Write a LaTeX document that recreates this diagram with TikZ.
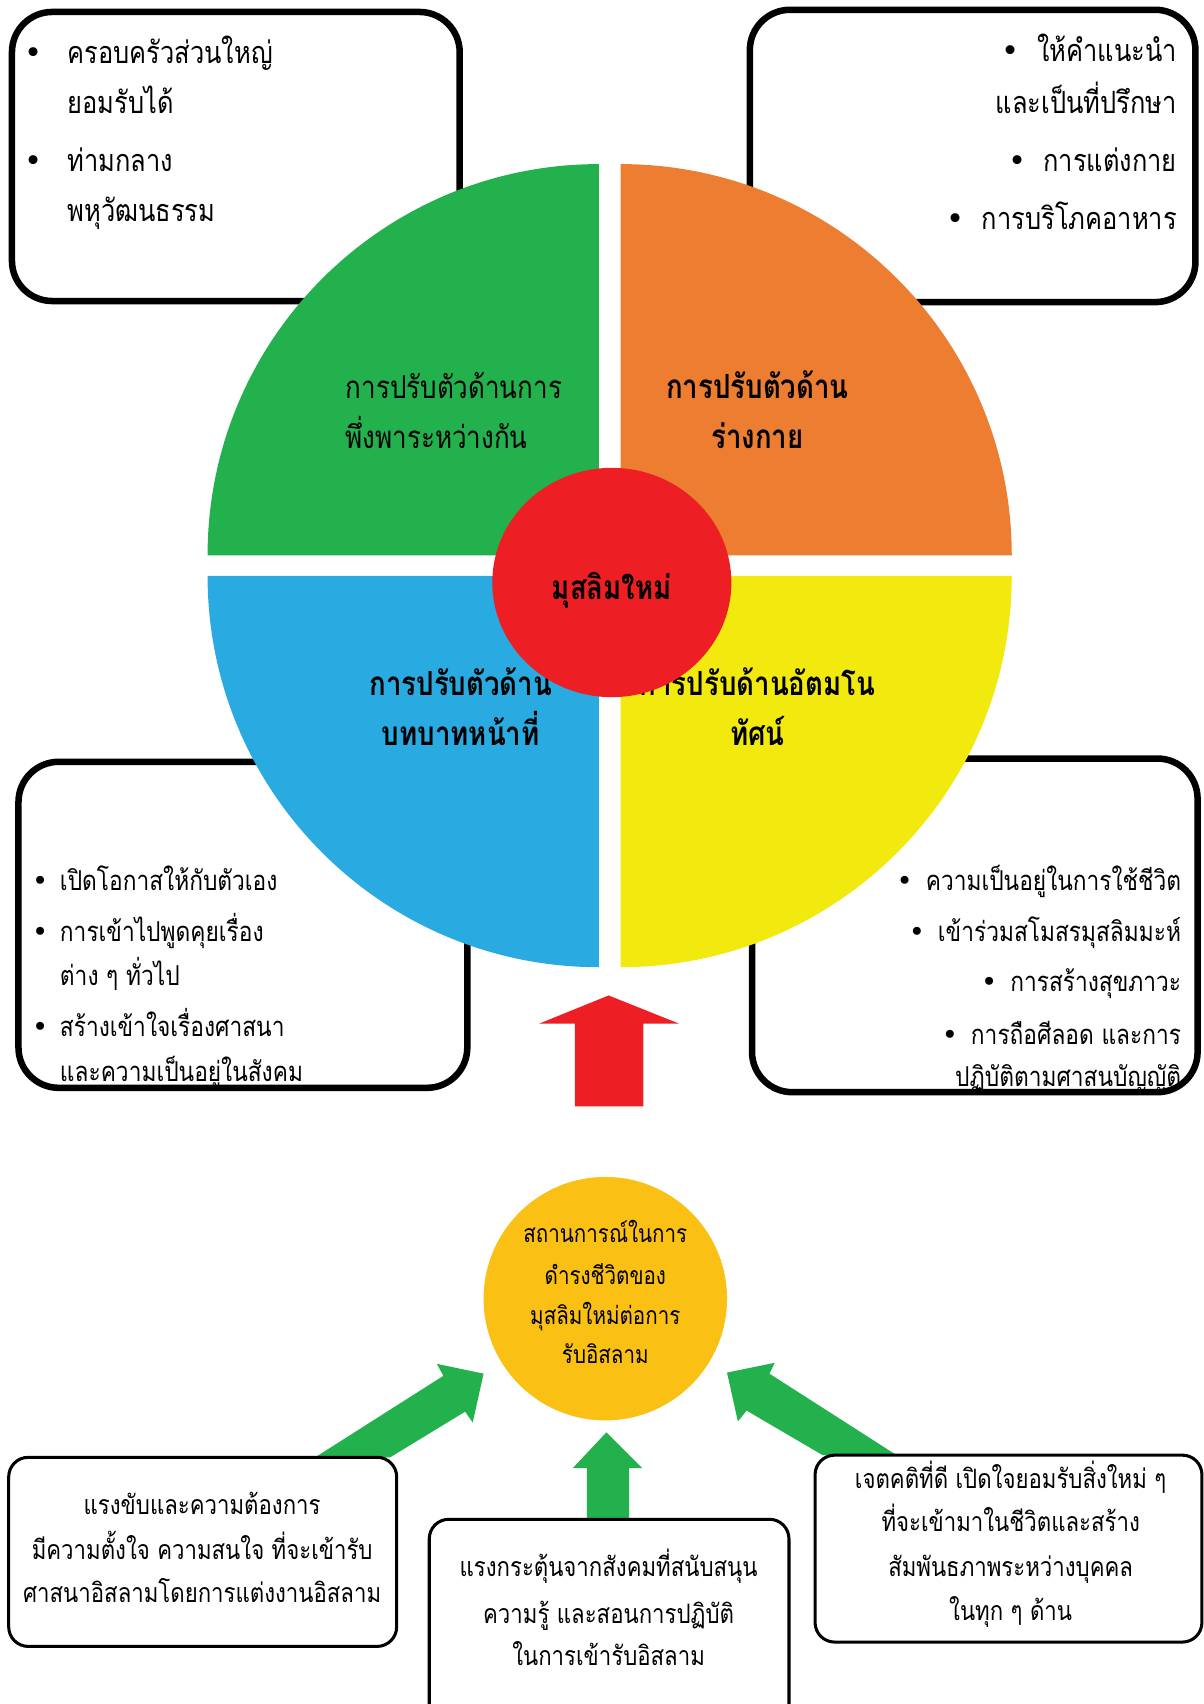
\documentclass[tikz,border=0pt]{standalone}
\usepackage{fontspec}
\setmainfont[Script=Thai,FakeStretch=0.83]{Loma}
\newfontfamily\bulfont{DejaVu Sans}
\usetikzlibrary{shapes.geometric}
\definecolor{qgreen}{RGB}{35,177,77}
\definecolor{qorange}{RGB}{237,125,49}
\definecolor{qblue}{RGB}{41,171,226}
\definecolor{qyellow}{RGB}{242,234,14}
\definecolor{qred}{RGB}{237,31,36}
\definecolor{qgold}{RGB}{251,192,20}
\newcommand\mybul{{\bulfont •}}
\begin{document}
\begin{tikzpicture}[x=1pt,y=-1pt,
  bigbox/.style={draw=black, line width=6pt, rounded corners=37pt, fill=white, inner sep=0pt},
  smallbox/.style={draw=black, line width=2.8pt, rounded corners=18pt, fill=white, inner sep=0pt},
  fa/.style={font=\fontsize{28.2pt}{34pt}\selectfont, inner sep=0pt},
  fb/.style={font=\fontsize{25.2pt}{30pt}\selectfont, inner sep=0pt},
  fd/.style={font=\fontsize{24.6pt}{30pt}\selectfont, inner sep=0pt},
  fq/.style={font=\fontsize{28.8pt}{35pt}\selectfont, inner sep=0pt},
  fqb/.style={font=\fontsize{30.6pt}{37pt}\selectfont\bfseries, inner sep=0pt},
  fc/.style={font=\fontsize{22.8pt}{27pt}\selectfont, inner sep=0pt},
  lw/.style={anchor=base west},
  le/.style={anchor=base east},
  lc/.style={anchor=base}
]
\useasboundingbox (0,0) rectangle (1107,1568);
\fill[white] (0,0) rectangle (1107,1568);

% ---------- upper boxes ----------
\node[bigbox, minimum width=412pt, minimum height=266pt] (tl) at (217,144) {};
\node[bigbox, minimum width=410pt, minimum height=269pt] (tr) at (895,143.5) {};
\node[bigbox, minimum width=413pt, minimum height=300pt] (bl) at (223.5,851) {};
\node[bigbox, minimum width=410pt, minimum height=307pt] (br) at (897,851.5) {};

% top-left texts
\node[fa,lc] (tlb1) at (31,58) {\mybul};
\node[fa,lw] (tl1) at (62,58) {ครอบครัวส่วนใหญ่};
\node[fa,lw] (tl2) at (62,104) {ยอมรับได้};
\node[fa,lc] (tlb3) at (31,158) {\mybul};
\node[fa,lw] (tl3) at (62,158) {ท่ามกลาง};
\node[fa,lw] (tl4) at (62,204) {พหุวัฒนธรรม};

% top-right texts
\node[fa,le] (tr1) at (1083,57) {\mybul\hspace{16pt}ให้คำแนะนำ};
\node[fa,le] (tr2) at (1083,104) {และเป็นที่ปรึกษา};
\node[fa,le] (tr3) at (1083,158) {\mybul\hspace{16pt}การแต่งกาย};
\node[fa,le] (tr4) at (1083,211) {\mybul\hspace{16pt}การบริโภคอาหาร};

% bottom-left texts
\node[fb,lc] (blb1) at (37,819) {\mybul};
\node[fb,lw] (bl1) at (55,819) {เปิดโอกาสให้กับตัวเอง};
\node[fb,lc] (blb2) at (37,866) {\mybul};
\node[fb,lw] (bl2) at (55,866) {การเข้าไปพูดคุยเรื่อง};
\node[fb,lw] (bl3) at (55,907) {ต่าง ๆ ทั่วไป};
\node[fb,lc] (blb4) at (37,954) {\mybul};
\node[fb,lw] (bl4) at (55,954) {สร้างเข้าใจเรื่องศาสนา};
\node[fb,lw] (bl5) at (55,995) {และความเป็นอยู่ในสังคม};

% bottom-right texts
\node[fb,le] (br1) at (1087,819) {\mybul\hspace{12pt}ความเป็นอยู่ในการใช้ชีวิต};
\node[fb,le] (br2) at (1087,866) {\mybul\hspace{12pt}เข้าร่วมสโมสรมุสลิมมะห์};
\node[fb,le] (br3) at (1087,912) {\mybul\hspace{12pt}การสร้างสุขภาวะ};
\node[fb,le] (br4) at (1087,961) {\mybul\hspace{12pt}การถือศีลอด และการ};
\node[fb,le] (br5) at (1087,1000) {ปฏิบัติตามศาสนบัญญัติ};

% ---------- quadrants ----------
\fill[qgreen]  (551,511) -- ++(-360,0) arc[start angle=180,end angle=90,radius=360pt] -- cycle;
\fill[qorange] (571,511) -- ++(0,-360) arc[start angle=90,end angle=0,radius=360pt] -- cycle;
\fill[qblue]   (551,530) -- ++(-360,0) arc[start angle=180,end angle=270,radius=360pt] -- cycle;
\fill[qyellow] (571,530) -- ++(360,0) arc[start angle=0,end angle=-90,radius=360pt] -- cycle;

\node[fq,lw] (q1a) at (318,367) {การปรับตัวด้านการ};
\node[fq,lw] (q1b) at (318,413) {พึ่งพาระหว่างกัน};
\node[fqb,lc] (q2a) at (697,367) {การปรับตัวด้าน};
\node[fqb,lc] (q2b) at (697,413) {ร่างกาย};
\node[fqb,lc] (q3a) at (424,640) {การปรับตัวด้าน};
\node[fqb,lc] (q3b) at (424,686) {บทบาทหน้าที่};
\node[fqb,lc] (q4a) at (697,640) {การปรับด้านอัตมโน};
\node[fqb,lc] (q4b) at (697,686) {ทัศน์};

\node[ellipse, fill=qred, minimum width=220pt, minimum height=211pt, inner sep=0pt] (core) at (563,536) {};
\node[fqb,lc] (coretxt) at (563,552) {มุสลิมใหม่};

% red arrow
\fill[qred] (529,1018) -- (529,942) -- (496,942) -- (560,916) -- (625,942) -- (592,942) -- (592,1018) -- cycle;

% ---------- lower part ----------
\fill[qgreen] (290,1341) -- (408,1266) -- (402,1255) -- (445,1264) -- (435,1309) -- (428,1299) -- (359,1341) -- cycle;
\fill[qgreen] (825,1339) -- (708,1264) -- (713,1254) -- (669,1263) -- (679,1308) -- (687,1298) -- (757,1339) -- cycle;
\fill[qgreen] (540,1398) -- (540,1351) -- (527,1351) -- (558,1318) -- (591,1351) -- (579,1351) -- (579,1398) -- cycle;

\node[circle, fill=qgold, minimum size=224pt, inner sep=0pt] (sit) at (557,1195) {};
\node[fc,lc] (sit1) at (557,1143) {สถานการณ์ในการ};
\node[fc,lc] (sit2) at (557,1182) {ดำรงชีวิตของ};
\node[fc,lc] (sit3) at (557,1219) {มุสลิมใหม่ต่อการ};
\node[fc,lc] (sit4) at (557,1255) {รับอิสลาม};

\node[smallbox, minimum width=357pt, minimum height=174pt] (bbl) at (186.5,1428) {};
\node[smallbox, minimum width=331pt, minimum height=202pt] (bbm) at (560.5,1499) {};
\node[smallbox, minimum width=356pt, minimum height=172pt] (bbr) at (928,1425) {};

\node[fd,lc] (bbl1) at (186,1394) {แรงขับและความต้องการ};
\node[fd,lc] (bbl2) at (186,1435) {มีความตั้งใจ ความสนใจ ที่จะเข้ารับ};
\node[fd,lc] (bbl3) at (186,1475) {ศาสนาอิสลามโดยการแต่งงานอิสลาม};

\node[fd,lc] (bbm1) at (560,1451) {แรงกระตุ้นจากสังคมที่สนับสนุน};
\node[fd,lc] (bbm2) at (560,1494) {ความรู้ และสอนการปฏิบัติ};
\node[fd,lc] (bbm3) at (560,1533) {ในการเข้ารับอิสลาม};

\node[fd,lc] (bbr1) at (930,1370) {เจตคติที่ดี เปิดใจยอมรับสิ่งใหม่ ๆ};
\node[fd,lc] (bbr2) at (930,1409) {ที่จะเข้ามาในชีวิตและสร้าง};
\node[fd,lc] (bbr3) at (930,1451) {สัมพันธภาพระหว่างบุคคล};
\node[fd,lc] (bbr4) at (930,1491) {ในทุก ๆ ด้าน};
\end{tikzpicture}
\end{document}
